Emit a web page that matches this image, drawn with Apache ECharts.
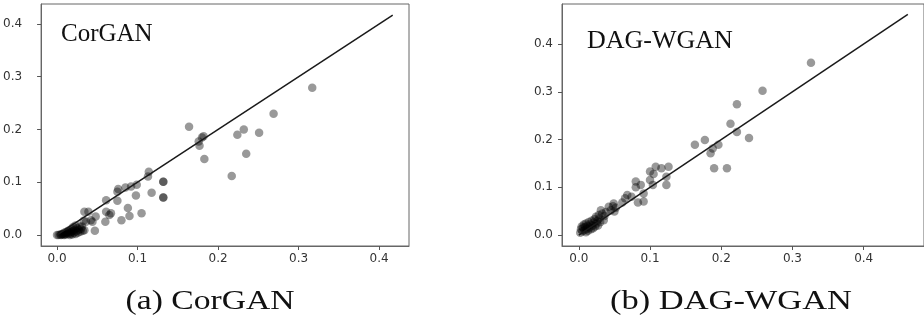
<!DOCTYPE html>
<html>
<head>
<meta charset="utf-8">
<script src="https://cdn.jsdelivr.net/npm/echarts@6/dist/echarts.min.js"></script>
<style>
  html, body { margin: 0; padding: 0; background: #fff; }
  #chart { width: 924px; height: 323px; }
</style>
</head>
<body>
<div id="chart"></div>
<script>
// tick labels shared by both panels
const tickValues = [0, 0.1, 0.2, 0.3, 0.4];

// (a) CorGAN: [real, synthetic]
const corganPts = [
  [0.000,0.000],[0.002,0.000],[0.004,0.001],[0.005,0.000],[0.006,0.002],[0.007,0.001],
  [0.008,0.003],[0.009,0.000],[0.010,0.002],[0.010,0.005],[0.011,0.001],[0.012,0.004],
  [0.013,0.007],[0.014,0.002],[0.015,0.005],[0.015,0.009],[0.016,0.000],[0.017,0.003],
  [0.018,0.006],[0.018,0.012],[0.019,0.001],[0.020,0.008],[0.020,0.015],[0.021,0.004],
  [0.022,0.010],[0.023,0.002],[0.023,0.018],[0.024,0.007],[0.025,0.013],[0.026,0.004],
  [0.027,0.010],[0.028,0.016],[0.029,0.006],[0.030,0.012],[0.031,0.016],[0.032,0.008],
  [0.033,0.027],[0.034,0.009],[0.036,0.025],[0.034,0.044],[0.039,0.044],[0.042,0.028],
  [0.044,0.025],[0.047,0.008],[0.048,0.035],[0.060,0.025],[0.061,0.044],[0.065,0.038],
  [0.067,0.041],[0.061,0.066],[0.075,0.065],[0.075,0.082],[0.076,0.087],[0.085,0.090],
  [0.092,0.092],[0.099,0.095],[0.098,0.075],[0.088,0.051],[0.090,0.036],[0.080,0.028],
  [0.105,0.041],[0.113,0.111],[0.114,0.120],[0.1175,0.080],[0.132,0.101],[0.132,0.101],
  [0.132,0.071],[0.132,0.071],[0.164,0.205],[0.176,0.177],[0.180,0.185],[0.182,0.187],
  [0.177,0.169],[0.183,0.144],[0.217,0.112],[0.224,0.190],[0.232,0.200],[0.251,0.194],
  [0.235,0.154],[0.269,0.230],[0.317,0.279]
];
const corganLine = [[0, 0], [0.417, 0.417]];

// (b) DAG-WGAN: [real, synthetic]
const dagPts = [
  [0.002,0.005],[0.003,0.012],[0.004,0.018],[0.005,0.008],[0.006,0.015],[0.007,0.022],
  [0.008,0.010],[0.009,0.017],[0.010,0.006],[0.010,0.024],[0.011,0.013],[0.012,0.019],
  [0.013,0.009],[0.014,0.027],[0.015,0.016],[0.016,0.022],[0.017,0.012],[0.018,0.030],
  [0.019,0.020],[0.020,0.014],[0.021,0.026],[0.022,0.033],[0.023,0.018],[0.024,0.038],
  [0.025,0.024],[0.026,0.030],[0.027,0.020],[0.028,0.042],[0.029,0.035],[0.030,0.027],
  [0.031,0.052],[0.033,0.045],[0.035,0.031],[0.036,0.040],[0.038,0.048],[0.042,0.059],
  [0.045,0.052],[0.048,0.060],[0.049,0.066],[0.050,0.049],[0.052,0.057],[0.061,0.068],
  [0.065,0.077],[0.068,0.084],[0.074,0.080],[0.080,0.100],[0.080,0.112],[0.083,0.068],
  [0.087,0.105],[0.091,0.087],[0.091,0.070],[0.100,0.115],[0.100,0.133],[0.104,0.105],
  [0.105,0.128],[0.108,0.143],[0.116,0.140],[0.123,0.122],[0.123,0.105],[0.126,0.143],
  [0.163,0.189],[0.177,0.199],[0.185,0.171],[0.188,0.181],[0.196,0.189],[0.190,0.140],
  [0.208,0.140],[0.213,0.233],[0.222,0.216],[0.222,0.274],[0.239,0.203],[0.258,0.302],
  [0.326,0.361]
];
const dagLine = [[0, 0], [0.462, 0.462]];

const captions = ['(a) CorGAN', '(b) DAG-WGAN'];
const panelLabels = ['CorGAN', 'DAG-WGAN'];

function makeAxis(idx, min, max, margin) {
    return {
        type: 'value',
        gridIndex: idx,
        min: min,
        max: max,
        splitLine: { show: false },
        axisLine: { show: true, onZero: false, lineStyle: { color: '#666', width: 1 } },
        axisTick: { show: true, length: 4, customValues: tickValues, lineStyle: { color: '#555' } },
        axisLabel: {
            customValues: tickValues,
            margin: margin,
            color: '#333',
            fontSize: 12,
            fontFamily: 'DejaVu Sans',
            formatter: function (v) { return v.toFixed(1); }
        }
    };
}

let myChart = echarts.init(document.getElementById('chart'), null, { renderer: 'canvas' });

let option = {
    backgroundColor: '#fff',
    animation: false,
    grid: [
        { left: 40, top: 4, width: 369, height: 242, show: true, borderColor: '#666', borderWidth: 1 },
        { left: 562, top: 4, width: 372, height: 242, show: true, borderColor: '#666', borderWidth: 1 }
    ],
    xAxis: [
        makeAxis(0, -0.0198, 0.4372, 7),
        makeAxis(1, -0.0236, 0.4847, 7)
    ],
    yAxis: [
        makeAxis(0, -0.0209, 0.4379, 19),
        makeAxis(1, -0.0230, 0.4838, 9)
    ],
    series: [
        {
            type: 'scatter', xAxisIndex: 0, yAxisIndex: 0,
            symbolSize: 8.5,
            itemStyle: { color: 'rgba(0,0,0,0.5)' },
            data: corganPts
        },
        {
            type: 'line', xAxisIndex: 0, yAxisIndex: 0,
            symbol: 'none',
            lineStyle: { color: '#1a1a1a', width: 1.5 },
            data: corganLine
        },
        {
            type: 'scatter', xAxisIndex: 1, yAxisIndex: 1,
            symbolSize: 8.5,
            itemStyle: { color: 'rgba(0,0,0,0.5)' },
            data: dagPts
        },
        {
            type: 'line', xAxisIndex: 1, yAxisIndex: 1,
            symbol: 'none',
            lineStyle: { color: '#1a1a1a', width: 1.5 },
            data: dagLine
        }
    ],
    graphic: [
        {
            type: 'text', left: 61, top: 22,
            style: { text: panelLabels[0], font: '25px "Liberation Serif"', fill: '#111' }
        },
        {
            type: 'text', left: 587, top: 28,
            style: { text: panelLabels[1], font: '26px "Liberation Serif"', fill: '#111' }
        },
        {
            type: 'text', x: 210, y: 302, scaleX: 1.2,
            style: { text: captions[0], font: '28px "Liberation Serif"', fill: '#111', align: 'center', verticalAlign: 'middle' }
        },
        {
            type: 'text', x: 731, y: 302, scaleX: 1.23,
            style: { text: captions[1], font: '28px "Liberation Serif"', fill: '#111', align: 'center', verticalAlign: 'middle' }
        }
    ]
};

myChart.setOption(option);
</script>
</body>
</html>
